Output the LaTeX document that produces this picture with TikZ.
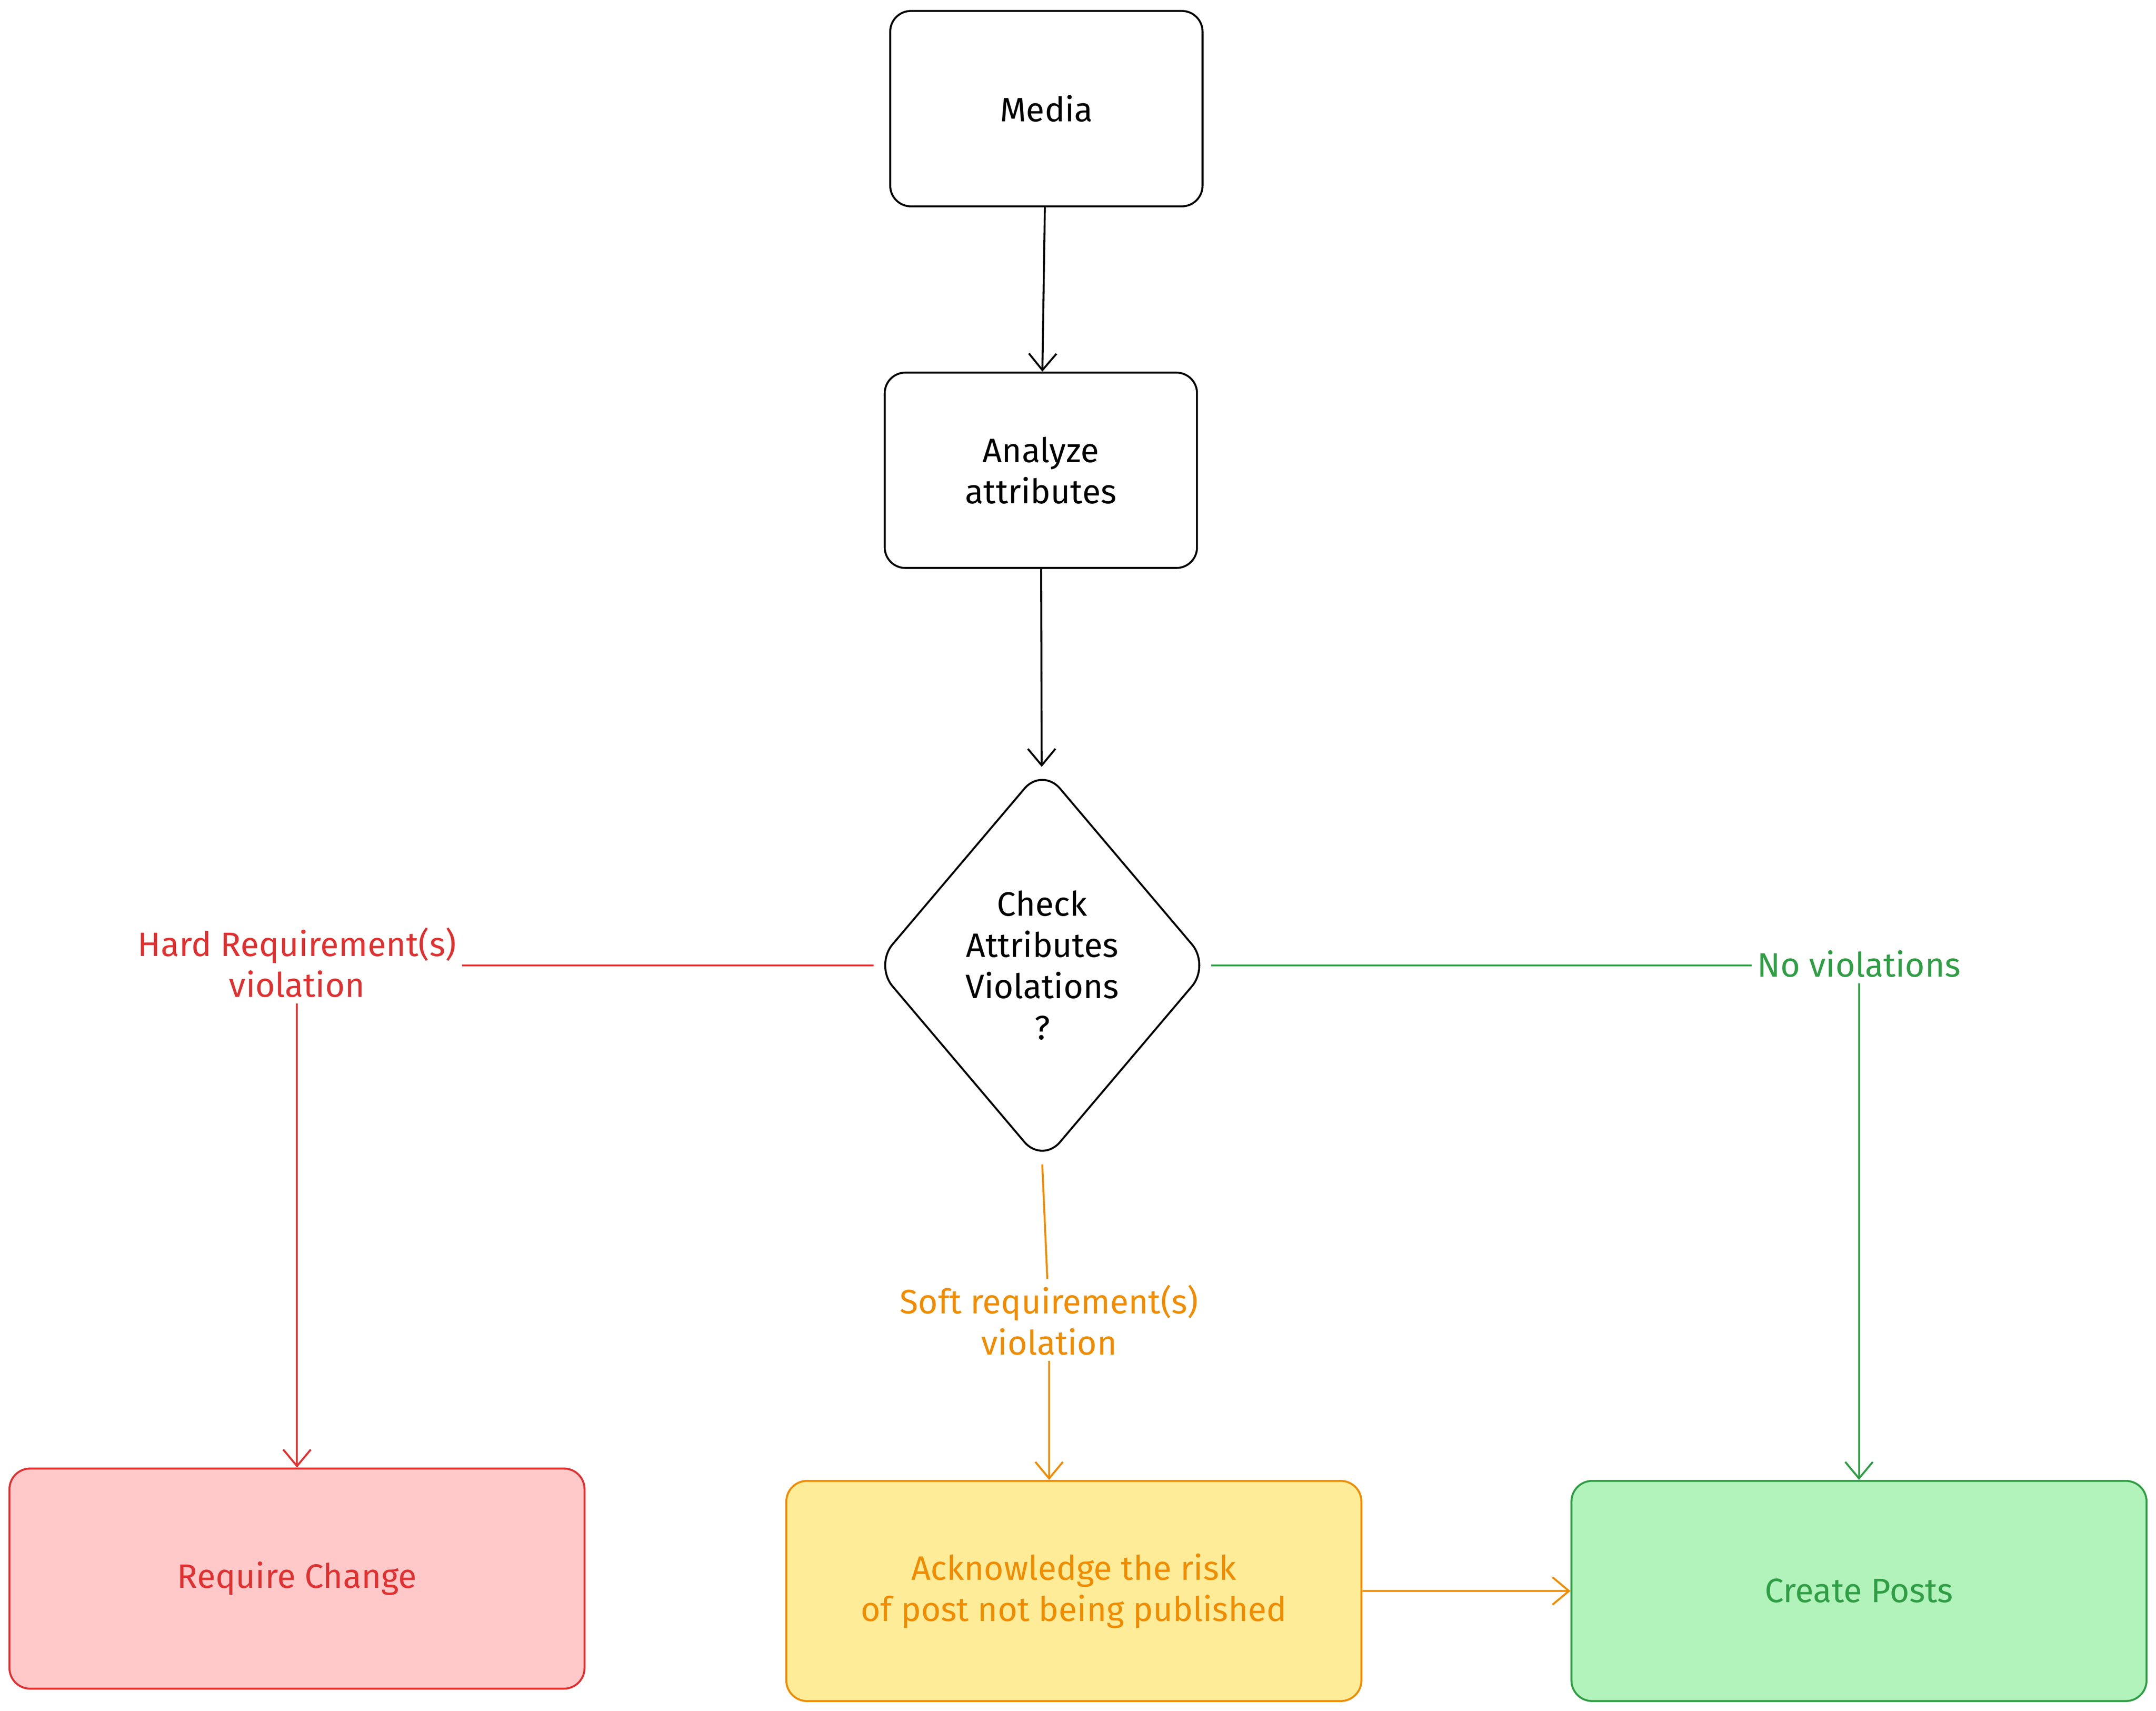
\documentclass[tikz,border=0pt]{standalone}
\usepackage{fontspec}
\setmainfont{Fira Sans}
\usetikzlibrary{shapes.geometric,arrows.meta}
\definecolor{rd}{HTML}{E03131}
\definecolor{rdf}{HTML}{FFC9C9}
\definecolor{og}{HTML}{F08C00}
\definecolor{ogf}{HTML}{FFEC99}
\definecolor{gn}{HTML}{2F9E44}
\definecolor{gnf}{HTML}{B2F2BB}
\tikzset{
 box/.style={draw, rounded corners=0.15cm, line width=0.4pt, minimum width=2.27cm, minimum height=1.42cm, align=center, font=\fontsize{7}{8.5}\selectfont},
 bigbox/.style={draw, rounded corners=0.15cm, line width=0.4pt, minimum width=4.18cm, minimum height=1.6cm, align=center, font=\fontsize{7}{8.5}\selectfont},
 lbl/.style={fill=white, inner sep=1pt, align=center, font=\fontsize{7}{8.5}\selectfont},
 conn/.style={line width=0.4pt, -{Straight Barb[length=1.2mm,width=2mm]}},
 seg/.style={line width=0.4pt}
}
\begin{document}
\begin{tikzpicture}[x=0.01cm,y=-0.01cm]
\useasboundingbox (0,0) rectangle (1568,1244);
\node[box] (media) at (761,79) {Media};
\node[box] (anal) at (757,342) {Analyze\\attributes};
\node[draw, diamond, rounded corners=0.2cm, line width=0.4pt, minimum width=2.44cm, minimum height=2.88cm, align=center, font=\fontsize{7}{8.5}\selectfont, inner sep=0pt] (chk) at (758,702) {Check\\Attributes\\Violations\\?};
\node[bigbox, fill=rdf, draw=rd, text=rd, minimum height=1.6cm] (req) at (216,1148) {Require Change};
\node[bigbox, fill=ogf, draw=og, text=og] (ack) at (781,1157) {Acknowledge the risk\\of post not being published};
\node[bigbox, fill=gnf, draw=gn, text=gn] (cre) at (1352,1157) {Create Posts};
\node[lbl, text=rd] (hard) at (216,700) {Hard Requirement(s)\\violation};
\node[lbl, text=gn] (nov) at (1352,701) {No violations};
\node[lbl, text=og] (soft) at (763,960) {Soft requirement(s)\\violation};
\draw[conn] (media) -- (anal);
\draw[conn] (anal) -- (chk);
\draw[seg, rd] (chk.west) -- (hard.east |- chk.west);
\draw[conn, rd] (hard) -- (req);
\draw[seg, gn] (chk.east) -- (nov.west |- chk.east);
\draw[conn, gn] (nov) -- (cre);
\draw[seg, og] (chk.south) -- (soft);
\draw[conn, og] (soft) -- (ack.north -| soft);
\draw[conn, og] (ack.east) -- (cre.west);
\end{tikzpicture}
\end{document}
